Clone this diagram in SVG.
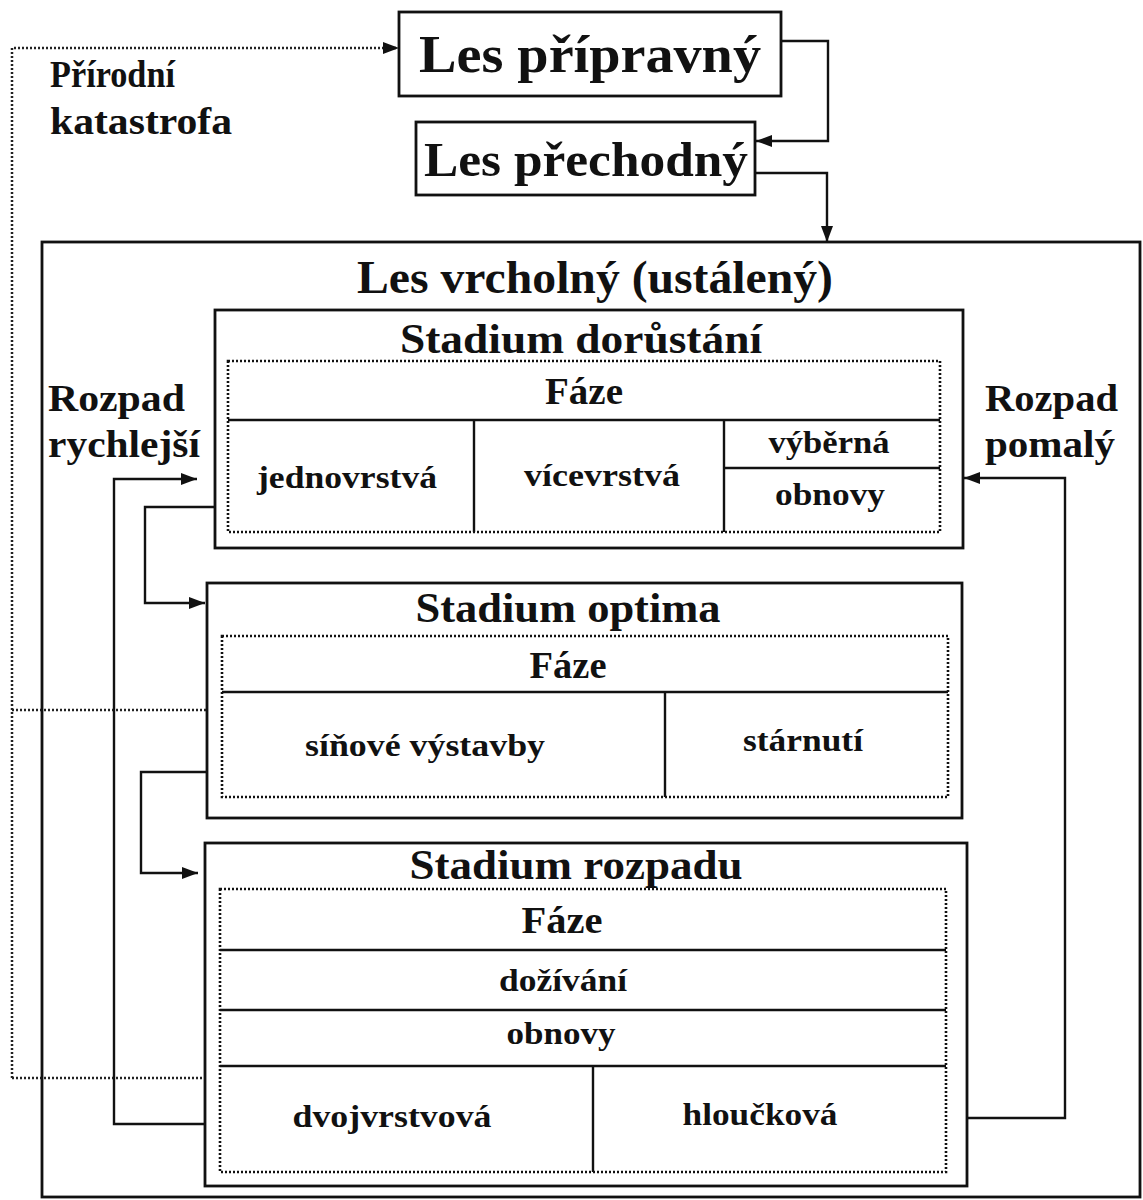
<svg xmlns="http://www.w3.org/2000/svg" width="1143" height="1200" viewBox="0 0 1143 1200">
<style>
.box{fill:none;stroke:#111;stroke-width:2.8}
.dot{fill:none;stroke:#111;stroke-width:2.6;stroke-dasharray:2 2}
.ln{fill:none;stroke:#111;stroke-width:2.4}
.c{fill:none;stroke:#111;stroke-width:2.4}
.cd{fill:none;stroke:#222;stroke-width:2.5;stroke-dasharray:2 2}
text{font-family:"Liberation Serif","Times New Roman",serif;font-weight:bold;fill:#111}
.m{text-anchor:middle}
</style>
<defs>
<marker id="ah" viewBox="0 0 16 12" refX="16" refY="6" markerWidth="16" markerHeight="12" markerUnits="userSpaceOnUse" orient="auto">
<path d="M0,0 L16,6 L0,12 Z" fill="#111"/>
</marker>
</defs>
<rect width="1143" height="1200" fill="#fff"/>

<g id="connectors">
<path class="cd" d="M12,1078 V48 H399" marker-end="url(#ah)"/>
<path class="cd" d="M12,710 H207"/>
<path class="cd" d="M12,1078 H205"/>
<path class="c" d="M781,41 H828 V141 H756" marker-end="url(#ah)"/>
<path class="c" d="M755,173 H827 V242" marker-end="url(#ah)"/>
<path class="c" d="M205,1124 H114 V479 H197" marker-end="url(#ah)"/>
<path class="c" d="M215,507 H145 V603 H205" marker-end="url(#ah)"/>
<path class="c" d="M207,772 H141 V873 H198" marker-end="url(#ah)"/>
<path class="c" d="M967,1118 H1065 V478 H964" marker-end="url(#ah)"/>
</g>

<g id="label-katastrofa">
<text x="50" y="87" font-size="37" textLength="125" lengthAdjust="spacingAndGlyphs">Přírodní</text>
<text x="50" y="134" font-size="37" textLength="182" lengthAdjust="spacingAndGlyphs">katastrofa</text>
</g>

<g id="les-pripravny">
<rect class="box" x="399" y="12" width="382" height="84"/>
<text class="m" x="590" y="72" font-size="52" textLength="342" lengthAdjust="spacingAndGlyphs">Les přípravný</text>
</g>

<g id="les-prechodny">
<rect class="box" x="416" y="122" width="339" height="73"/>
<text class="m" x="586" y="176" font-size="48" textLength="324" lengthAdjust="spacingAndGlyphs">Les přechodný</text>
</g>

<g id="les-vrcholny">
<rect class="box" x="42" y="242" width="1098" height="955"/>
<text class="m" x="595" y="293" font-size="46" textLength="476" lengthAdjust="spacingAndGlyphs">Les vrcholný (ustálený)</text>
</g>

<g id="label-rychlejsi">
<text x="48" y="411" font-size="38" textLength="137" lengthAdjust="spacingAndGlyphs">Rozpad</text>
<text x="48" y="457" font-size="38" textLength="152" lengthAdjust="spacingAndGlyphs">rychlejší</text>
</g>

<g id="label-pomaly">
<text x="985" y="411" font-size="38" textLength="133" lengthAdjust="spacingAndGlyphs">Rozpad</text>
<text x="985" y="457" font-size="38" textLength="130" lengthAdjust="spacingAndGlyphs">pomalý</text>
</g>

<g id="stadium-dorustani">
<rect class="box" x="215" y="310" width="748" height="238"/>
<text class="m" x="581" y="353" font-size="42" textLength="362" lengthAdjust="spacingAndGlyphs">Stadium dorůstání</text>
<rect class="dot" x="228" y="361" width="712" height="171"/>
<path class="ln" d="M228,420 H940 M474,420 V532 M724,420 V532 M724,468 H940"/>
<text class="m" x="584" y="404" font-size="37" textLength="78" lengthAdjust="spacingAndGlyphs">Fáze</text>
<text class="m" x="347" y="488" font-size="31" textLength="180" lengthAdjust="spacingAndGlyphs">jednovrstvá</text>
<text class="m" x="602" y="486" font-size="31" textLength="156" lengthAdjust="spacingAndGlyphs">vícevrstvá</text>
<text class="m" x="829" y="453" font-size="31" textLength="121" lengthAdjust="spacingAndGlyphs">výběrná</text>
<text class="m" x="830" y="505" font-size="31" textLength="110" lengthAdjust="spacingAndGlyphs">obnovy</text>
</g>

<g id="stadium-optima">
<rect class="box" x="207" y="583" width="755" height="235"/>
<text class="m" x="568" y="622" font-size="42" textLength="305" lengthAdjust="spacingAndGlyphs">Stadium optima</text>
<rect class="dot" x="222" y="636" width="726" height="161"/>
<path class="ln" d="M222,692 H948 M665,692 V797"/>
<text class="m" x="568" y="678" font-size="37" textLength="77" lengthAdjust="spacingAndGlyphs">Fáze</text>
<text class="m" x="425" y="756" font-size="31" textLength="240" lengthAdjust="spacingAndGlyphs">síňové výstavby</text>
<text class="m" x="803" y="751" font-size="31" textLength="120" lengthAdjust="spacingAndGlyphs">stárnutí</text>
</g>

<g id="stadium-rozpadu">
<rect class="box" x="205" y="843" width="762" height="343"/>
<text class="m" x="576" y="879" font-size="42" textLength="333" lengthAdjust="spacingAndGlyphs">Stadium rozpadu</text>
<rect class="dot" x="220" y="889" width="726" height="283"/>
<path class="ln" d="M220,950 H946 M220,1010 H946 M220,1066 H946 M593,1066 V1172"/>
<text class="m" x="562" y="933" font-size="37" textLength="81" lengthAdjust="spacingAndGlyphs">Fáze</text>
<text class="m" x="563" y="991" font-size="31" textLength="128" lengthAdjust="spacingAndGlyphs">dožívání</text>
<text class="m" x="561" y="1044" font-size="31" textLength="109" lengthAdjust="spacingAndGlyphs">obnovy</text>
<text class="m" x="392" y="1127" font-size="31" textLength="199" lengthAdjust="spacingAndGlyphs">dvojvrstvová</text>
<text class="m" x="760" y="1125" font-size="31" textLength="155" lengthAdjust="spacingAndGlyphs">hloučková</text>
</g>
</svg>
